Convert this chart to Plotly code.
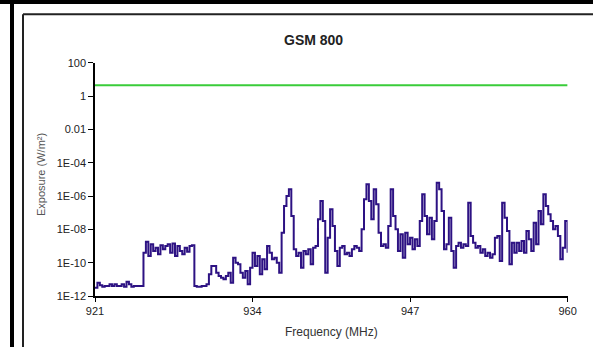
import numpy as np
import plotly.graph_objects as go

# ---- data ----
freq_start = 921.0
freq_step = 0.2
# exposure, as log10(W/m²), one value per 0.2 MHz channel, 921.0 .. 960.0
exposure_log10 = [
    -11.5, -11.2, -11.35, -11.45, -11.4, -11.4, -11.3, -11.4, -11.3, -11.4,
    -11.4, -11.3, -11.45, -11.15, -11.3, -11.45, -11.4, -11.4, -11.4, -11.4,
    -9.4, -8.75, -9.6, -8.9, -9.3, -9.1, -9.5, -8.95, -9.2, -9.0,
    -8.9, -9.4, -8.85, -9.6, -9.0, -9.3, -9.5, -9.1, -9.35, -9.0,
    -8.95, -11.4, -11.45, -11.45, -11.4, -11.4, -11.3, -10.7, -10.2, -10.2,
    -10.6, -10.8, -10.9, -11.0, -10.8, -10.6, -11.2, -9.7, -10.0, -10.1,
    -10.6, -10.9, -10.5, -11.3, -10.3, -9.4, -10.2, -9.6, -10.7, -9.8,
    -10.4, -9.0, -9.4, -9.8, -9.7, -10.0, -10.6, -8.2, -6.6, -6.0,
    -5.6, -7.2, -9.2, -9.6, -9.4, -10.3, -9.3, -9.5, -9.2, -10.1,
    -9.1, -9.0, -7.4, -6.3, -7.5, -10.6, -8.5, -6.8, -7.8, -9.3,
    -10.2, -9.1, -9.0, -9.5, -9.4, -9.6, -9.2, -9.0, -9.1, -9.3,
    -8.0, -6.2, -5.3, -6.3, -7.4, -5.6, -6.5, -8.2, -9.0, -8.9,
    -9.1, -7.8, -5.6, -7.2, -8.0, -9.3, -8.3, -9.7, -8.2, -8.9,
    -8.5, -9.2, -8.6, -9.0, -7.5, -5.9, -7.2, -8.3, -7.3, -8.6,
    -7.5, -5.2, -5.6, -6.9, -9.2, -8.9, -7.3, -9.3, -10.3, -9.0,
    -8.8, -9.1, -8.9, -9.0, -6.4, -8.4, -8.8, -9.1, -9.0, -9.4,
    -9.2, -9.6, -9.4, -9.7, -9.5, -8.5, -8.4, -9.9, -6.4, -7.3,
    -8.1, -10.1, -8.8, -9.4, -8.8, -9.3, -8.7, -9.4, -8.1, -8.6,
    -9.3, -7.6, -8.9, -6.9, -7.7, -5.9, -6.6, -7.1, -7.5, -8.0,
    -7.8, -8.4, -9.8, -9.1, -7.5, -9.4,
]
limit_value = 4.5  # W/m², reference level line
x_ticks = [921, 934, 947, 960]
y_tickvals = [1e-12, 1e-10, 1e-8, 1e-6, 1e-4, 1e-2, 1, 100]
y_ticktext = ["1E-12", "1E-10", "1E-08", "1E-06", "1E-04", "0.01", "1", "100"]
title_text = "GSM 800"
x_title = "Frequency (MHz)"
y_title = "Exposure (W/m²)"

freq = [round(freq_start + freq_step * i, 1) for i in range(len(exposure_log10))]
exposure = [10 ** v for v in exposure_log10]

W, H = 593, 347
FONT = "Liberation Sans, Arial, sans-serif"

def px(x):
    return x / W

def py(y):
    return 1 - y / H

fig = go.Figure()
fig.add_trace(go.Scatter(
    x=[x_ticks[0], x_ticks[-1]], y=[limit_value, limit_value], mode="lines",
    line=dict(color="#3ACC3A", width=2), showlegend=False, hoverinfo="skip"))
fig.add_trace(go.Scatter(
    x=freq, y=exposure, mode="lines", line=dict(color="#2D1283", width=2, shape="hv"),
    showlegend=False))

fig.update_layout(
    width=W, height=H, margin=dict(l=0, r=0, t=0, b=0, pad=0, autoexpand=False),
    paper_bgcolor="white", plot_bgcolor="white",
    font=dict(family=FONT, size=11, color="#111"),
    xaxis=dict(domain=[px(95), px(567.6)], range=[921, 960], tickvals=x_ticks,
               ticks="outside", ticklen=4, tickcolor="black", showline=True,
               linecolor="black", linewidth=1.5, showgrid=False, zeroline=False,
               automargin=False,
               tickfont=dict(size=11, family=FONT, color="#222")),
    yaxis=dict(domain=[py(296), py(62.7)], type="log", range=[-12, 2],
               tickvals=y_tickvals, ticktext=y_ticktext, ticks="outside",
               ticklen=5, tickcolor="black", showline=True, linecolor="black",
               linewidth=1.5, showgrid=False, zeroline=False, automargin=False,
               tickfont=dict(size=11, family=FONT, color="#222")),
    annotations=[
        dict(text=f"<b>{title_text}</b>", x=px(313), y=py(40), xref="paper", yref="paper",
             showarrow=False, xanchor="center", yanchor="middle",
             font=dict(size=14, family=FONT, color="#222")),
        dict(text=x_title, x=px(332), y=py(332), xref="paper", yref="paper",
             showarrow=False, xanchor="center", yanchor="middle",
             font=dict(size=12, family=FONT, color="#333")),
        dict(text=y_title, x=px(41), y=py(175), xref="paper", yref="paper",
             showarrow=False, xanchor="center", yanchor="middle", textangle=-90,
             font=dict(size=11, family=FONT, color="#555")),
    ],
    shapes=[
        dict(type="rect", xref="paper", yref="paper", x0=0, x1=1, y0=py(4), y1=1,
             fillcolor="black", line=dict(width=0)),
        dict(type="rect", xref="paper", yref="paper", x0=px(10), x1=px(14), y0=0, y1=1,
             fillcolor="black", line=dict(width=0)),
        dict(type="line", xref="paper", yref="paper", x0=px(23), x1=1, y0=py(14.3), y1=py(14.3),
             line=dict(color="#222", width=2)),
        dict(type="line", xref="paper", yref="paper", x0=px(23), x1=px(23), y0=0, y1=py(14.3),
             line=dict(color="#222", width=2)),
    ],
)

fig.write_html("out.html")
